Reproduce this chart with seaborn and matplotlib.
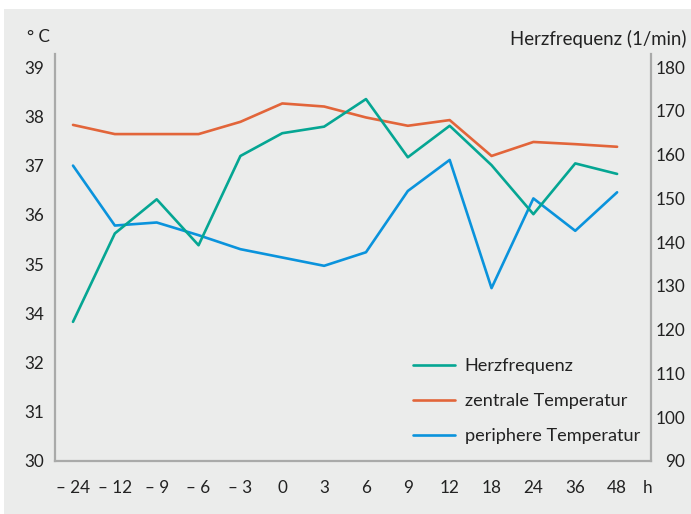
import numpy as np
import pandas as pd
import matplotlib
matplotlib.use("Agg")
import matplotlib.pyplot as plt
from matplotlib.patches import Rectangle
import seaborn as sns

sns.set_theme(style="white")
plt.rcParams["font.family"] = ["Lato", "DejaVu Sans"]

# Zeitpunkte (h)
hours = ["– 24", "– 12", "– 9", "– 6", "– 3", "0", "3", "6", "9", "12", "18", "24", "36", "48"]

# Herzfrequenz (1/min), rechte Achse
herzfrequenz = [121.8, 142.0, 149.8, 139.3, 159.7, 164.9, 166.4, 172.7, 159.4, 166.6,
                157.6, 146.4, 158.0, 155.6]
# Temperaturen (°C), linke Achse
zentrale_temp = [37.68, 37.47, 37.47, 37.47, 37.75, 38.17, 38.10, 37.85, 37.66, 37.79,
                 36.97, 37.29, 37.24, 37.18]
periphere_temp = [36.75, 35.38, 35.45, 35.16, 34.84, 34.65, 34.46, 34.77, 36.17, 36.88,
                  33.95, 36.00, 35.26, 36.14]

left_labels = ["30", "31", "32", "34", "35", "36", "37", "38", "39"]
right_ticks = [90, 100, 110, 120, 130, 140, 150, 160, 170, 180]

c_hf = "#05a693"
c_zt = "#e2653a"
c_pt = "#0a93dc"
grey = "#a9aaa9"
bg = "#ebeceb"
txt = "#222222"

pos = np.arange(len(hours))
df = pd.DataFrame({"pos": pos, "hf": herzfrequenz, "zt": zentrale_temp, "pt": periphere_temp})

fig = plt.figure(figsize=(6.91, 5.14), dpi=100, facecolor="white")
fig.patches.append(Rectangle((4 / 691, 0), 1, (514 - 9) / 514, transform=fig.transFigure,
                             facecolor=bg, edgecolor="none", zorder=-1))

ax = fig.add_axes([55 / 691, 53 / 514, (651 - 55) / 691, (461 - 54) / 514])
ax.set_facecolor("none")
ax2 = ax.twinx()
ax2.set_facecolor("none")

lw = 1.9
sns.lineplot(data=df, x="pos", y="zt", ax=ax, color=c_zt, lw=lw, label="zentrale Temperatur", legend=False)
sns.lineplot(data=df, x="pos", y="pt", ax=ax, color=c_pt, lw=lw, label="periphere Temperatur", legend=False)
sns.lineplot(data=df, x="pos", y="hf", ax=ax2, color=c_hf, lw=lw, label="Herzfrequenz", legend=False)

ax.set_xlim(-0.43, 13.81)
ax.set_ylim(30, 39.3)
ax2.set_ylim(90, 183)

ax.set_yticks(np.linspace(30, 39, 9))
ax.set_yticklabels(left_labels)
ax2.set_yticks(right_ticks)
ax2.set_yticklabels([str(t) for t in right_ticks], ha="right")
ax.set_xticks(pos)
ax.set_xticklabels(hours)

for a in (ax, ax2):
    a.set_xlabel("")
    a.set_ylabel("")
    a.tick_params(length=0, labelsize=12.3, colors=txt)
    for s in a.spines.values():
        s.set_visible(False)
ax.tick_params(axis="y", pad=8)
ax2.tick_params(axis="y", pad=24.5)
ax.tick_params(axis="x", pad=14)
ax.spines["left"].set_visible(True)
ax.spines["bottom"].set_visible(True)
ax2.spines["right"].set_visible(True)
for s in (ax.spines["left"], ax.spines["bottom"], ax2.spines["right"]):
    s.set_color(grey)
    s.set_linewidth(1.6)

ax.text(13.72, -0.046, "h", transform=ax.get_xaxis_transform(), ha="center", va="top",
        fontsize=12.3, color=txt)
fig.text(27 / 691, 1 - 37 / 514, "° C", ha="left", va="center", fontsize=12.3, color=txt)
fig.text(686 / 691, 1 - 39 / 514, "Herzfrequenz (1/min)", ha="right", va="center",
         fontsize=13.4, color=txt)

h1, l1 = ax2.get_legend_handles_labels()
h2, l2 = ax.get_legend_handles_labels()
leg = ax.legend(h1 + h2, l1 + l2, loc="upper left", bbox_to_anchor=((413 - 55) / 596, (461 - 358) / 407),
                frameon=False, fontsize=13.1, handlelength=2.3, handletextpad=0.55,
                labelspacing=1.05, borderpad=0, borderaxespad=0, labelcolor=txt)

fig.savefig("out.png", dpi=100, facecolor="white")
